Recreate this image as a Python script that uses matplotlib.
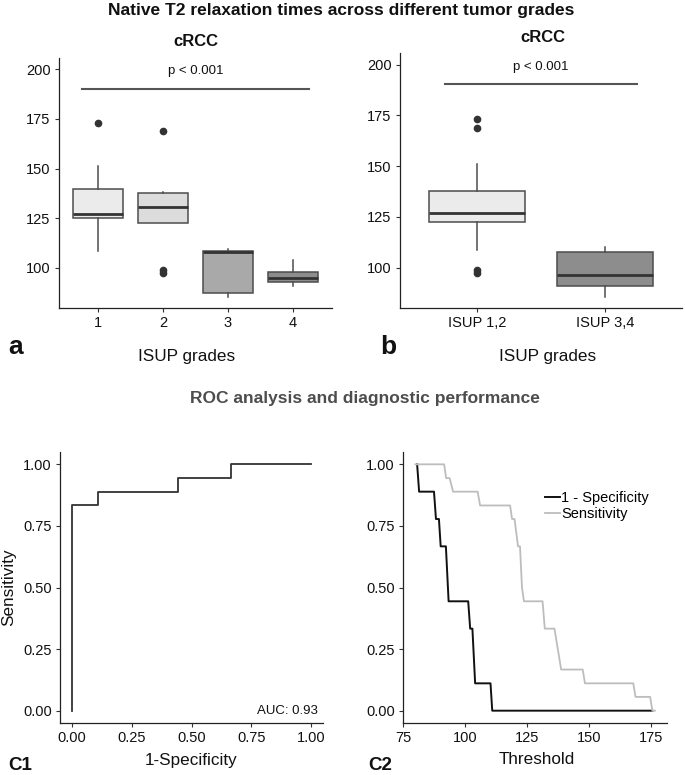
import matplotlib
matplotlib.use("Agg")
import matplotlib.pyplot as plt

plt.rcParams['font.family'] = ['Liberation Sans', 'DejaVu Sans']

# ---- data ----
grades_a = ['1', '2', '3', '4']
lo_a = [108.6, 122.7, 85.4, 91.0]
q1_a = [124.9, 122.7, 87.1, 92.6]
med_a = [126.9, 130.4, 108.1, 94.8]
q3_a = [139.5, 137.6, 108.4, 98.0]
hi_a = [151.3, 138.0, 109.4, 103.9]
fliers_a = [[173.1], [168.9, 98.8, 97.5], [], []]
fill_a = ['#ebebeb', '#dcdcdc', '#a9a9a9', '#8d8d8d']

grades_b = ['ISUP 1,2', 'ISUP 3,4']
lo_b = [108.7, 85.7]
q1_b = [122.7, 91.1]
med_b = [127.0, 96.2]
q3_b = [137.8, 107.6]
hi_b = [151.2, 110.0]
fliers_b = [[173.2, 168.9, 98.8, 97.5], []]
fill_b = ['#ebebeb', '#8d8d8d']

# ROC curve (1-specificity, sensitivity)
roc_fpr = [0.0, 0.0, 0.111, 0.111, 0.444, 0.444, 0.667, 0.667, 1.0]
roc_tpr = [0.0, 0.833, 0.833, 0.889, 0.889, 0.944, 0.944, 1.0, 1.0]
auc_text = 'AUC: 0.93'

# threshold curves
thr_fpr = [80.7, 81.5, 87.5, 88.3, 89.5, 90.2, 92.3, 93.4, 101.3, 102.1,
           103.0, 104.1, 110.3, 111.0, 175.6]
val_fpr = [1.0, 0.889, 0.889, 0.778, 0.778, 0.667, 0.667, 0.444, 0.444, 0.333,
           0.333, 0.111, 0.111, 0.0, 0.0]
thr_sens = [80.0, 91.6, 92.4, 93.8, 95.2, 105.1, 106.1, 118.2, 119.0, 120.0,
            121.4, 122.2, 123.0, 123.8, 131.3, 132.2, 136.1, 138.8, 147.5,
            148.4, 167.9, 168.8, 174.7, 175.6, 176.6]
val_sens = [1.0, 1.0, 0.944, 0.944, 0.889, 0.889, 0.833, 0.833, 0.778, 0.778,
            0.667, 0.667, 0.5, 0.444, 0.444, 0.333, 0.333, 0.167, 0.167,
            0.111, 0.111, 0.056, 0.056, 0.0, 0.0]

W, H = 685, 775
fig = plt.figure(figsize=(W / 100, H / 100), dpi=100)


def px_axes(left, top, right, bottom):
    return fig.add_axes([left / W, 1 - bottom / H, (right - left) / W, (bottom - top) / H])


def ftext(x, y, s, **kw):
    fig.text(x / W, 1 - y / H, s, **kw)


def style(ax):
    for sp in ['top', 'right']:
        ax.spines[sp].set_visible(False)
    for sp in ['left', 'bottom']:
        ax.spines[sp].set_linewidth(0.9)
        ax.spines[sp].set_color('#222222')
    ax.tick_params(direction='out', length=3, width=0.8, color='#333333',
                   labelsize=10.5, labelcolor='#111111', pad=3)
    ax.set_facecolor('white')


def boxes(ax, lo, q1, med, q3, hi, fliers, fills, width):
    stats = []
    for i in range(len(med)):
        stats.append(dict(whislo=lo[i], q1=q1[i], med=med[i], q3=q3[i],
                          whishi=hi[i], fliers=fliers[i]))
    pos = list(range(1, len(med) + 1))
    bp = ax.bxp(stats, positions=pos, widths=width, patch_artist=True, showcaps=False,
                boxprops=dict(edgecolor='#4d4d4d', linewidth=1.1),
                whiskerprops=dict(color='#4d4d4d', linewidth=1.1),
                medianprops=dict(color='#333333', linewidth=2.0),
                flierprops=dict(marker='o', markerfacecolor='#333333',
                                markeredgecolor='#333333', markersize=4.5))
    for patch, c in zip(bp['boxes'], fills):
        patch.set_facecolor(c)
    return pos


# ---- panel a ----
ax_a = px_axes(59, 58, 332, 308)
style(ax_a)
pos = boxes(ax_a, lo_a, q1_a, med_a, q3_a, hi_a, fliers_a, fill_a, 0.77)
ax_a.set_xticks(pos)
ax_a.set_xticklabels(grades_a)
ax_a.set_xlim(0.4, 4.6)
ax_a.set_ylim(79.7, 205.7)
ax_a.set_yticks([100, 125, 150, 175, 200])
ax_a.plot([0.75, 4.25], [190, 190], color='#555555', lw=1.5)
ax_a.text(2.5, 199, 'p < 0.001', ha='center', va='center', fontsize=9.5, color='#111111')

# ---- panel b ----
ax_b = px_axes(400, 53, 682, 308)
style(ax_b)
pos = boxes(ax_b, lo_b, q1_b, med_b, q3_b, hi_b, fliers_b, fill_b, 0.75)
ax_b.set_xticks(pos)
ax_b.set_xticklabels(grades_b)
ax_b.set_xlim(0.4, 2.6)
ax_b.set_ylim(80.1, 205.8)
ax_b.set_yticks([100, 125, 150, 175, 200])
ax_b.plot([0.75, 2.25], [190.5, 190.5], color='#555555', lw=1.5)
ax_b.text(1.5, 199, 'p < 0.001', ha='center', va='center', fontsize=9.5, color='#111111')

# ---- panel C1 ----
ax_c1 = px_axes(60, 452, 323, 723)
style(ax_c1)
ax_c1.plot(roc_fpr, roc_tpr, color='#333333', lw=1.3, drawstyle='steps-post')
ax_c1.set_xlim(-0.05, 1.05)
ax_c1.set_ylim(-0.05, 1.05)
ticks = [0, 0.25, 0.5, 0.75, 1.0]
ax_c1.set_xticks(ticks)
ax_c1.set_yticks(ticks)
ax_c1.set_xticklabels(['%.2f' % t for t in ticks])
ax_c1.set_yticklabels(['%.2f' % t for t in ticks])
ax_c1.text(1.03, 0.0, auc_text, ha='right', va='center', fontsize=9.5, color='#111111')

# ---- panel C2 ----
ax_c2 = px_axes(403, 452, 667, 723)
style(ax_c2)
ax_c2.plot(thr_fpr, val_fpr, color='#111111', lw=1.4, label='1 - Specificity')
ax_c2.plot(thr_sens, val_sens, color='#bdbdbd', lw=1.3, label='Sensitivity')
ax_c2.set_xlim(75, 181.5)
ax_c2.set_ylim(-0.05, 1.05)
ax_c2.set_xticks([75, 100, 125, 150, 175])
ax_c2.set_yticks(ticks)
ax_c2.set_yticklabels(['%.2f' % t for t in ticks])
ax_c2.legend(loc='upper left', bbox_to_anchor=(545 / W, 1 - 491 / H),
             bbox_transform=fig.transFigure, frameon=False, fontsize=10.5,
             handlelength=1.0, handletextpad=0.1, borderpad=0, borderaxespad=0,
             labelspacing=0.15)

# ---- figure text ----
ftext(341, 11, 'Native T2 relaxation times across different tumor grades',
      ha='center', va='center', fontsize=12.5, fontweight='bold', color='#111111')
ftext(196, 42, 'cRCC', ha='center', va='center', fontsize=12, fontweight='bold', color='#111111')
ftext(543, 38, 'cRCC', ha='center', va='center', fontsize=12, fontweight='bold', color='#111111')
ftext(8, 347, 'a', ha='left', va='center', fontsize=19, fontweight='bold', color='#111111')
ftext(187, 356, 'ISUP grades', ha='center', va='center', fontsize=12.3, color='#111111')
ftext(380, 347, 'b', ha='left', va='center', fontsize=19, fontweight='bold', color='#111111')
ftext(548, 356, 'ISUP grades', ha='center', va='center', fontsize=12.3, color='#111111')
ftext(365, 398, 'ROC analysis and diagnostic performance',
      ha='center', va='center', fontsize=12.5, fontweight='bold', color='#4d4d4d')
ftext(8, 766, 'C1', ha='left', va='center', fontsize=13.5, fontweight='bold', color='#111111')
ftext(191, 760, '1-Specificity', ha='center', va='center', fontsize=12.3, color='#111111')
ftext(368, 766, 'C2', ha='left', va='center', fontsize=13.5, fontweight='bold', color='#111111')
ftext(537, 760, 'Threshold', ha='center', va='center', fontsize=12.3, color='#111111')
ftext(9, 587, 'Sensitivity', ha='center', va='center', rotation=90, fontsize=12.3, color='#111111')

fig.savefig('out.png', dpi=100)
